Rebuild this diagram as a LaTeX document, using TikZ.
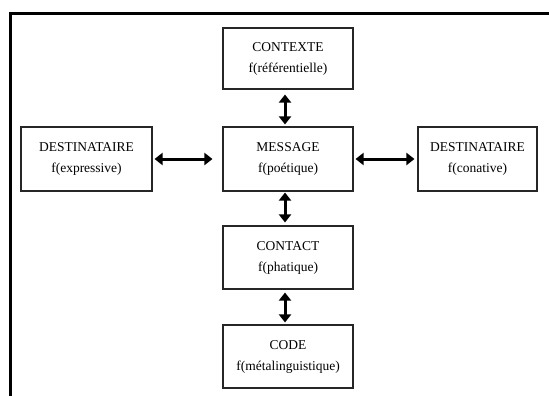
\documentclass[tikz,border=0pt]{standalone}
\usepackage{fontspec}
\setmainfont{Liberation Serif}
\usetikzlibrary{arrows.meta}
\begin{document}
\begin{tikzpicture}[x=1pt,y=-1pt,
  fbox/.style={draw=black!85,line width=1.1pt,rectangle,align=center,inner sep=0pt,
    font=\fontsize{13.5}{21}\selectfont},
  biarrow/.style={line width=3pt,{Triangle[width=12pt,length=8pt]}-{Triangle[width=12pt,length=8pt]}}]
\useasboundingbox (0,0) rectangle (549,396);
\draw[line width=3pt] (549,14) -- (10,14) -- (10,396);
\node[fbox,minimum width=130pt,minimum height=61pt] (ctx) at (288,58.5) {CONTEXTE\\f(référentielle)};
\node[fbox,minimum width=130pt,minimum height=64pt] (msg) at (288,159) {MESSAGE\\f(poétique)};
\node[fbox,minimum width=131pt,minimum height=64pt] (dl) at (86.5,159) {DESTINATAIRE\\f(expressive)};
\node[fbox,minimum width=119pt,minimum height=64pt] (dr) at (477.5,159) {DESTINATAIRE\\f(conative)};
\node[fbox,minimum width=130pt,minimum height=63pt] (cnt) at (288,257.5) {CONTACT\\f(phatique)};
\node[fbox,minimum width=130pt,minimum height=63pt] (code) at (288,356.5) {CODE\\f(métalinguistique)};
\draw[biarrow,shorten <=5pt,shorten >=2pt] ([xshift=-3pt]ctx.south) -- ([xshift=-3pt]msg.north);
\draw[biarrow,shorten <=2pt,shorten >=10pt] (dl.east) -- (msg.west);
\draw[biarrow,shorten <=2pt,shorten >=3pt] (msg.east) -- (dr.west);
\draw[biarrow,shorten <=1pt,shorten >=3pt] ([xshift=-3pt]msg.south) -- ([xshift=-3pt]cnt.north);
\draw[biarrow,shorten <=3pt,shorten >=2pt] ([xshift=-3pt]cnt.south) -- ([xshift=-3pt]code.north);
\end{tikzpicture}
\end{document}
